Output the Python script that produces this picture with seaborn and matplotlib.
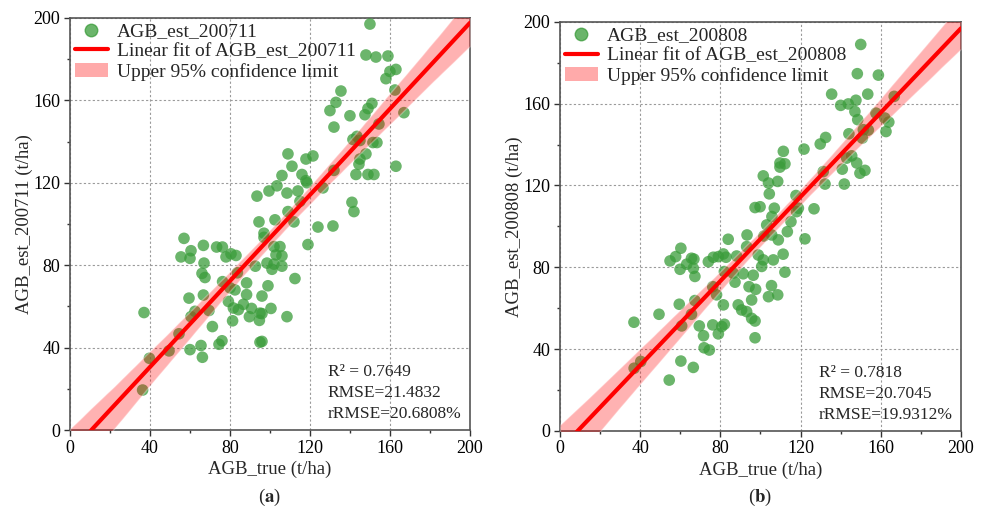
import numpy as np
import pandas as pd
import matplotlib
matplotlib.use("Agg")
import matplotlib.pyplot as plt
from matplotlib.lines import Line2D
from matplotlib.patches import Patch
from matplotlib.ticker import MultipleLocator
import seaborn as sns

# values (true, estimated)
true_a = [150, 148, 153, 159, 160, 163, 158, 162.5, 167,
          135.5, 133, 130, 140, 132, 151, 149, 147.5, 154.5,
          141.5, 143.5, 145, 151.5, 153.5, 148, 145, 144.5, 163, 132, 143, 149, 152,
          109, 118, 121.5, 111, 106, 116, 118, 103.5, 99.5, 108.5, 114, 126.5, 93.5, 118.5,
          141, 142, 109, 115, 102.5, 124, 131.5, 112, 94.5,
          119, 97, 97, 102, 105, 106, 103, 98.5, 102, 106, 101, 112.5, 99, 96, 100.5, 96, 108.5, 96,
          57, 60.5, 55.5, 60, 66.7, 73.3, 76.2, 78, 80.5, 83, 67, 92.7, 66, 67.5, 76.3, 83.7,
          80, 82.5, 88.3, 88.3, 66.7, 59.5, 79.2, 81.7, 84.2, 86.7, 90.8, 89.7, 95, 94.7, 81.3,
          69.5, 62.5, 60.5, 71.2, 54.5, 37, 76, 74.5, 95, 65.5, 60, 49.5, 66.2, 39.7, 36.3]
est_a = [197, 182, 181, 181.5, 174, 175, 170.5, 165, 154,
         164.5, 159, 155, 152.5, 147, 158.5, 156, 153, 148.5,
         141, 142.5, 140.5, 139.5, 139.5, 134, 131.5, 129, 128, 126, 124, 124, 124,
         134, 131.5, 133, 128, 123.5, 124, 121, 118.5, 116, 115, 116, 117.5, 113.5, 120,
         110.5, 106, 106, 111, 102, 98.5, 99, 101, 101,
         90, 95.5, 93.5, 89, 89, 84.5, 85, 81, 80.5, 79.5, 78, 73.5, 70, 65, 59, 56.5, 55, 43,
         93, 87, 84, 83.3, 89.6, 88.8, 88.8, 84, 85.5, 84.7, 81, 79.5, 76, 74, 72, 76.3,
         69, 68, 71.4, 65.7, 65.5, 64, 62.4, 59.2, 58.4, 61, 59, 55, 56.7, 53.2, 53,
         58, 57.6, 55, 50.2, 46.7, 57, 43.3, 41.6, 42.6, 41, 39, 38.4, 35.3, 34.8, 19.4]

true_b = [150, 148.3, 158.8, 135.5, 153.5, 140, 143.8, 147.6, 147.1, 148.5, 157.6, 166.7, 162, 164,
          162.6, 153.8, 151.3, 150.8, 144.1, 132.5, 129.8, 121.7, 111.4, 109.7, 112.2, 109.7,
          145.5, 143, 148, 140.8, 152.1, 149.6, 131.3, 132.2, 141.8, 101.4, 104, 108.6, 104.4,
          117.7, 97.3, 99.8, 106.9, 118.9, 118, 126.7, 105.7, 115.2, 103.1, 113.4, 108.9, 122.2,
          98.9, 101.4, 100.6, 106.4, 111.3, 112.2, 105.5, 104, 108.6, 97.3, 97.3,
          93.3, 83.9, 101.7, 105.6, 93.1, 66.8, 74, 76.5, 79, 81.5, 82.8, 88.1, 66.5, 67.3,
          86.4, 91.4, 96.4, 87.3, 94.3, 97.6, 76.2, 78.1, 95.6, 67.3, 81.5, 88.9, 90.6, 93.1, 95.6,
          60.3, 57.7, 54.9, 65.6, 63.2, 59.9, 82, 65.6, 59.5, 49.4, 36.9, 60.7, 69.5, 71.6,
          76.2, 80.7, 82, 79, 71.9, 74.5, 60.3, 66.5, 54.5, 37, 40.3]
est_b = [189, 174.7, 174, 164.7, 164.7, 159.2, 159.9, 161.7, 156.2, 152.2, 155.4, 163.6, 153, 151,
         146.4, 147.1, 147.3, 143.2, 145.3, 143.5, 140.3, 137.8, 136.7, 131, 130.6, 129,
         134.5, 133.4, 131, 128, 127.4, 126, 126.8, 120.7, 120.7, 124.7, 121.2, 122, 115.9,
         115.1, 109.2, 109.6, 108.9, 108.9, 107.2, 108.6, 104.8, 102.3, 100.7, 97.4, 93.4, 93.9,
         86, 83.6, 80.4, 83.6, 86.4, 77.6, 71, 65.6, 66.5, 53.7, 45.5,
         95.8, 93.7, 95.3, 95.8, 90.1, 84, 82.7, 84.9, 85.2, 86.5, 84.9, 85.5, 79.5, 75.5,
         77.1, 76.8, 76.1, 72.7, 70.5, 69.2, 70.5, 66.5, 64, 63.7, 61.6, 61.6, 59.1, 58.3, 55,
         89.3, 85.2, 83.1, 84.4, 81.5, 79, 77.9, 57, 61.9, 57, 53.1, 51.3, 51.3, 46.5,
         51.8, 51, 52.1, 47.4, 40.6, 39.5, 34.1, 31, 24.8, 30.6, 33.9]

panels = [
    ("200711", true_a, est_a, "R\u00b2 = 0.7649\nRMSE=21.4832\nrRMSE=20.6808%", "a"),
    ("200808", true_b, est_b, "R\u00b2 = 0.7818\nRMSE=20.7045\nrRMSE=19.9312%", "b"),
]

sns.set_style("white")
plt.rcParams["font.family"] = ["Liberation Serif", "DejaVu Serif"]
plt.rcParams["mathtext.fontset"] = "stix"

fig = plt.figure(figsize=(9.81, 5.11), dpi=100)
boxes = [[0.0714, 0.1585, 0.4076, 0.8065], [0.5708, 0.157, 0.4088, 0.800]]

for (date, xs, ys, stats, tag), box in zip(panels, boxes):
    ax = fig.add_axes(box)
    df = pd.DataFrame({"AGB_true": xs, "AGB_est": ys})
    ax.set_xlim(0, 200)
    ax.set_ylim(0, 200)
    sns.regplot(data=df, x="AGB_true", y="AGB_est", ax=ax, ci=95, truncate=False,
                scatter_kws=dict(s=70, color="#3a9c3a", alpha=0.75, edgecolor="none", zorder=3),
                line_kws=dict(color="red", lw=3, zorder=4))
    ax.collections[-1].set_alpha(0.3)
    ax.collections[-1].set_zorder(3.5)
    ax.set_xlim(0, 200)
    ax.set_ylim(0, 200)

    ax.xaxis.set_major_locator(MultipleLocator(40))
    ax.yaxis.set_major_locator(MultipleLocator(40))
    ax.xaxis.set_minor_locator(MultipleLocator(20))
    ax.yaxis.set_minor_locator(MultipleLocator(20))
    ax.tick_params(which="major", direction="out", length=4, width=1, labelsize=13,
                   bottom=True, left=True, colors="#333333", pad=3)
    ax.tick_params(which="minor", direction="out", length=2.5, width=1, bottom=True, left=True,
                   colors="#333333")
    for lab in ax.get_xticklabels() + ax.get_yticklabels():
        lab.set_color("black")
    ax.grid(True, which="major", linestyle=(0, (2, 2)), color="#9a9a9a", lw=0.8)
    for sp in ax.spines.values():
        sp.set_color("#555555")
        sp.set_linewidth(1.2)

    ax.set_xlabel("AGB_true (t/ha)", fontsize=13.5, labelpad=3)
    ax.set_ylabel(f"AGB_est_{date} (t/ha)", fontsize=13.5, labelpad=0)

    handles = [
        Line2D([], [], marker="o", ls="none", color="#3a9c3a", alpha=0.75, markersize=9),
        Line2D([], [], color="red", lw=3),
        Patch(facecolor="#ffaaaa", edgecolor="none"),
    ]
    labels = [f"AGB_est_{date}", f"Linear fit of AGB_est_{date}", "Upper 95% confidence limit"]
    ax.legend(handles, labels, loc="upper left", frameon=False, fontsize=14,
              handlelength=1.7, borderaxespad=0.05, borderpad=0.2, labelspacing=0.12,
              handletextpad=0.45)

    ax.text(0.645, 0.02, stats, transform=ax.transAxes, fontsize=12.5, va="bottom",
            ha="left", linespacing=1.4)

    cx = box[0] + box[2] / 2
    fig.text(cx, 1 - 497 / 511, rf"($\mathbf{{{tag}}}$)", fontsize=13.5, ha="center",
             va="center")

fig.savefig("out.png", dpi=100)
